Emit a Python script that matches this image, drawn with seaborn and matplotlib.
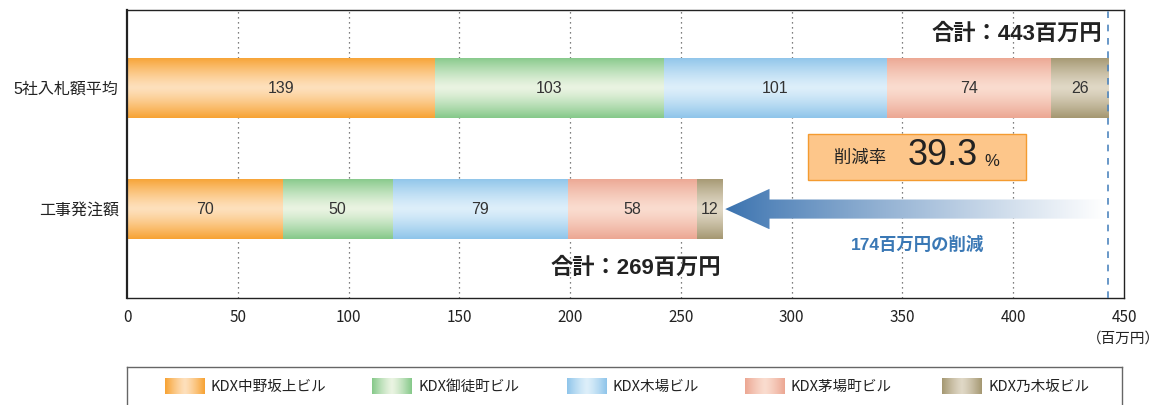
import numpy as np
import pandas as pd
import matplotlib
matplotlib.use('Agg')
import matplotlib.pyplot as plt
import seaborn as sns
from matplotlib.patches import Rectangle, Polygon

# data
categories = ['5社入札額平均', '工事発注額']
buildings = ['KDX中野坂上ビル', 'KDX御徒町ビル', 'KDX木場ビル', 'KDX茅場町ビル', 'KDX乃木坂ビル']
bid_avg = [139, 103, 101, 74, 26]
order_amt = [70, 50, 79, 58, 12]
totals = [443, 269]
reduction = 174
reduction_rate = 39.3
x_ticks = [0, 50, 100, 150, 200, 250, 300, 350, 400, 450]

# colours: (edge, middle) of each gradient
edge_cols = ['#F7A334', '#86C98A', '#8FC5EA', '#ECA793', '#A59872']
mid_cols = ['#FEE0BC', '#EAF4E2', '#DDEFFA', '#FADCCF', '#E0D8C6']

sns.set_theme(style='white')
LAT = ['Liberation Sans', 'Noto Sans CJK JP', 'DejaVu Sans']
NARROW = ['Liberation Sans Narrow', 'Noto Sans CJK JP', 'DejaVu Sans']
plt.rcParams['font.family'] = LAT


def gradient(edge, mid, n=64, horizontal=False):
    e = np.array(matplotlib.colors.to_rgb(edge))
    m = np.array(matplotlib.colors.to_rgb(mid))
    t = np.abs(np.linspace(-1, 1, n)) ** 1.3
    g = m + (e - m) * t[:, None]
    return g[None, :, :] if horizontal else g[:, None, :]


fig = plt.figure(figsize=(11.67, 4.05), dpi=100)
ax = fig.add_axes([127 / 1167, 1 - 298 / 405, 997 / 1167, 288 / 405])

values = np.array([bid_avg, order_amt])  # rows: category
cum = values.cumsum(axis=1)

# stacked bars: draw cumulative totals from the largest layer down
zo = 2
for k in range(len(buildings) - 1, -1, -1):
    n0 = len(ax.patches)
    sns.barplot(x=cum[:, k], y=categories, orient='h', color=edge_cols[k],
                width=0.5, errorbar=None, ax=ax)
    for p in ax.patches[n0:]:
        p.set_linewidth(0)
        x0, y0 = p.get_x(), p.get_y()
        im = ax.imshow(gradient(edge_cols[k], mid_cols[k]), aspect='auto',
                       extent=(x0, x0 + p.get_width(), y0 + p.get_height(), y0),
                       zorder=zo, interpolation='bilinear')
        im.set_clip_path(p)
        zo += 0.01

# segment labels
for i in range(len(categories)):
    for k in range(len(buildings)):
        ax.text(cum[i, k] - values[i, k] / 2, i, str(values[i, k]), ha='center',
                va='center', fontsize=11.5, color='#333333', zorder=5)

ax.set_xlim(0, 450)
ax.set_ylim(1.735, -0.645)
ax.set_xticks(x_ticks)
ax.set_xticklabels([str(t) for t in x_ticks], fontsize=11, color='#222222', family=NARROW)
ax.tick_params(axis='y', labelsize=11.5, colors='#222222', length=0, pad=6)
ax.tick_params(axis='x', length=4, direction='in', pad=8)
ax.set_xlabel('')
ax.set_ylabel('')
for t in x_ticks[1:-1]:
    ax.axvline(t, color='#555555', lw=0.9, ls=(0, (1, 3)), zorder=1)
for s in ax.spines.values():
    s.set_color('#222222')
    s.set_linewidth(1.0)
ax.spines['left'].set_linewidth(1.6)

# total line
ax.axvline(totals[0], color='#4F86BF', lw=1.2, ls=(0, (4, 4)), zorder=6)

ax.text(totals[0] - 3, -0.445, f'合計：{totals[0]}百万円', ha='right', va='center',
        fontsize=16, fontweight='bold', color='#222222')
ax.text(totals[1] - 1, 1.49, f'合計：{totals[1]}百万円', ha='right', va='center',
        fontsize=16, fontweight='bold', color='#222222')

# reduction rate box
box = Rectangle((307.4, 0.38), 98.4, 0.38, facecolor='#FDC68A', edgecolor='#F49B30',
                lw=1.0, zorder=6)
ax.add_patch(box)
ax.text(331, 0.575, '削減率', ha='center', va='center', fontsize=12.5, color='#222222', zorder=7)
ax.text(368, 0.56, f'{reduction_rate}', ha='center', va='center', fontsize=26,
        color='#222222', zorder=7)
ax.text(390.5, 0.61, '%', ha='center', va='center', fontsize=12, color='#222222', zorder=7)

# arrow
tip, head_base, tail = 270, 290, 441.5
sh, hh = 0.079, 0.167
arrow = Polygon([(tip, 1), (head_base, 1 - hh), (head_base, 1 - sh), (tail, 1 - sh),
                 (tail, 1 + sh), (head_base, 1 + sh), (head_base, 1 + hh)],
                closed=True, facecolor='none', edgecolor='none', zorder=6)
ax.add_patch(arrow)
c0 = np.array(matplotlib.colors.to_rgb('#3A72AF'))
c1 = np.array([1.0, 1.0, 1.0])
s = np.linspace(0, 1, 256)[:, None]
grad = (c0 + (c1 - c0) * s ** 0.9)[None, :, :]
im = ax.imshow(grad, aspect='auto', extent=(tip, tail, 1 + hh, 1 - hh), zorder=6,
               interpolation='bilinear')
im.set_clip_path(arrow)
ax.text(357, 1.29, f'{reduction}百万円の削減', ha='center', va='center', fontsize=12.5,
        fontweight='bold', color='#3A78B5', zorder=7)

ax.set_xlim(0, 450)
ax.set_ylim(1.735, -0.645)

fig.text(1160 / 1167, 1 - 339 / 405, '（百万円）', ha='right', va='center', fontsize=10.5,
         color='#222222')

# legend panel
lax = fig.add_axes([127 / 1167, 1 - 445 / 405, 995 / 1167, 78 / 405])
lax.set_xlim(127, 1122)
lax.set_ylim(445, 367)
lax.set_xticks([])
lax.set_yticks([])
for sp in lax.spines.values():
    sp.set_color('#666666')
    sp.set_linewidth(1.0)
leg_x = [165, 372, 567, 745, 942]
for k, name in enumerate(buildings):
    lax.imshow(gradient(edge_cols[k], mid_cols[k], horizontal=True), aspect='auto',
               extent=(leg_x[k], leg_x[k] + 40, 394, 378), interpolation='bilinear')
    lax.text(leg_x[k] + 46, 386.5, name, ha='left', va='center', fontsize=10.5,
             color='#222222', family=NARROW)
lax.set_xlim(127, 1122)
lax.set_ylim(445, 367)

fig.savefig('out.png', dpi=100)
